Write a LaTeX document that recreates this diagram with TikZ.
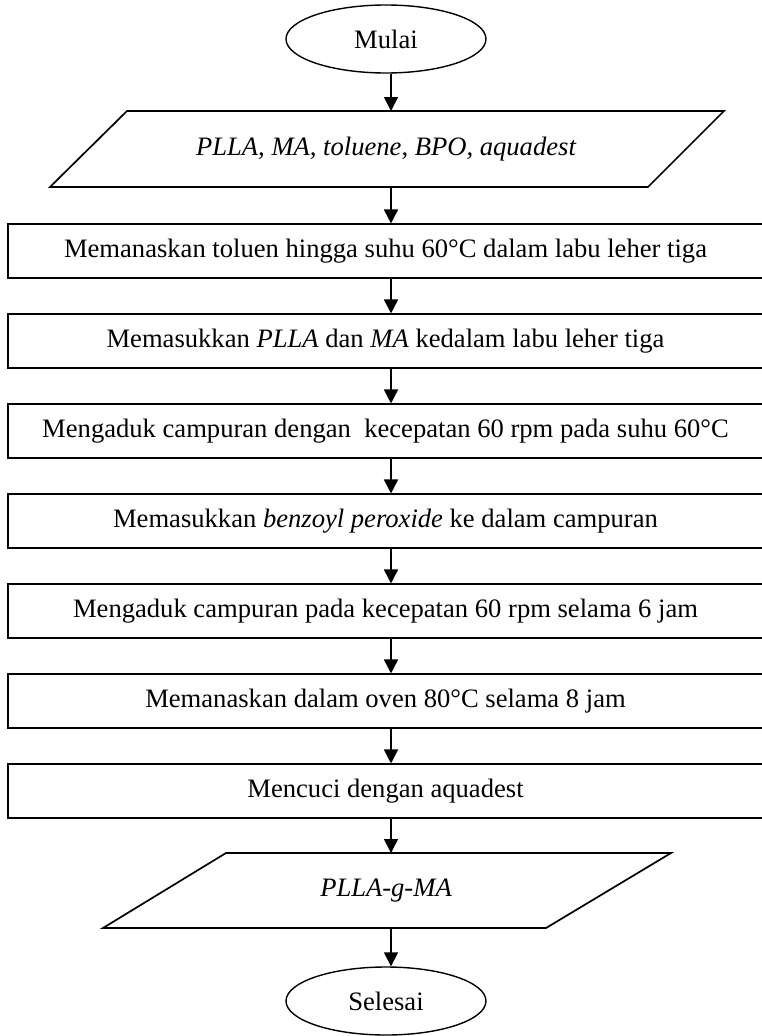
\documentclass[tikz,border=0pt]{standalone}
\usepackage{fontspec}
\setmainfont{Liberation Serif}
\usetikzlibrary{shapes.geometric,arrows.meta}
\begin{document}
\begin{tikzpicture}[x=1pt,y=-1pt,
  every node/.style={font=\fontsize{26.6}{32}\selectfont, inner sep=0pt},
  stepbox/.style={draw, line width=1.7pt, rectangle, minimum width=762pt, minimum height=53.4pt},
  term/.style={draw, line width=1.4pt, ellipse, minimum width=200pt, minimum height=68pt},
  iobox/.style={line width=1.7pt, line join=miter},
  arr/.style={line width=1.7pt, -{Triangle[width=14pt,length=14pt]}}]
\useasboundingbox (0,0) rectangle (762,1036);
\coordinate (ax) at (391,0);
% terminals
\node[term] (start) at (386,39) {Mulai};
\node[term] (stop) at (386,1001) {Selesai};
% input
\draw[iobox] (127,111) -- (724,111) -- (648,187) -- (50,187) -- cycle;
\node (in) at (386,149) {\itshape PLLA, MA, toluene, BPO, aquadest};
\coordinate (int) at (391,111);
\coordinate (inb) at (391,187);
% steps
\node[stepbox] (s1) at (389,251) {\hspace*{-7pt}Memanaskan toluen hingga suhu 60°C dalam labu leher tiga};
\node[stepbox] (s2) at (389,341) {\hspace*{-7pt}Memasukkan \textit{PLLA} dan \textit{MA} kedalam labu leher tiga};
\node[stepbox] (s3) at (389,431) {\hspace*{-7pt}Mengaduk campuran dengan \ kecepatan 60 rpm pada suhu 60°C};
\node[stepbox] (s4) at (389,521) {\hspace*{-7pt}Memasukkan \textit{benzoyl peroxide} ke dalam campuran};
\node[stepbox] (s5) at (389,611) {\hspace*{-7pt}Mengaduk campuran pada kecepatan 60 rpm selama 6 jam};
\node[stepbox] (s6) at (389,701) {\hspace*{-7pt}Memanaskan dalam oven 80°C selama 8 jam};
\node[stepbox] (s7) at (389,791) {\hspace*{-7pt}Mencuci dengan aquadest};
% output
\draw[iobox] (226,853) -- (671,853) -- (546,928) -- (103,928) -- cycle;
\node (out) at (386,890.5) {\itshape PLLA-g-MA};
\coordinate (outt) at (391,853);
\coordinate (outb) at (391,928);
% connectors
\draw[arr] (start.south -| ax) -- (int);
\draw[arr] (inb) -- (s1.north -| ax);
\draw[arr] (s1.south -| ax) -- (s2.north -| ax);
\draw[arr] (s2.south -| ax) -- (s3.north -| ax);
\draw[arr] (s3.south -| ax) -- (s4.north -| ax);
\draw[arr] (s4.south -| ax) -- (s5.north -| ax);
\draw[arr] (s5.south -| ax) -- (s6.north -| ax);
\draw[arr] (s6.south -| ax) -- (s7.north -| ax);
\draw[arr] (s7.south -| ax) -- (outt);
\draw[arr] (outb) -- (stop.north -| ax);
\end{tikzpicture}
\end{document}
